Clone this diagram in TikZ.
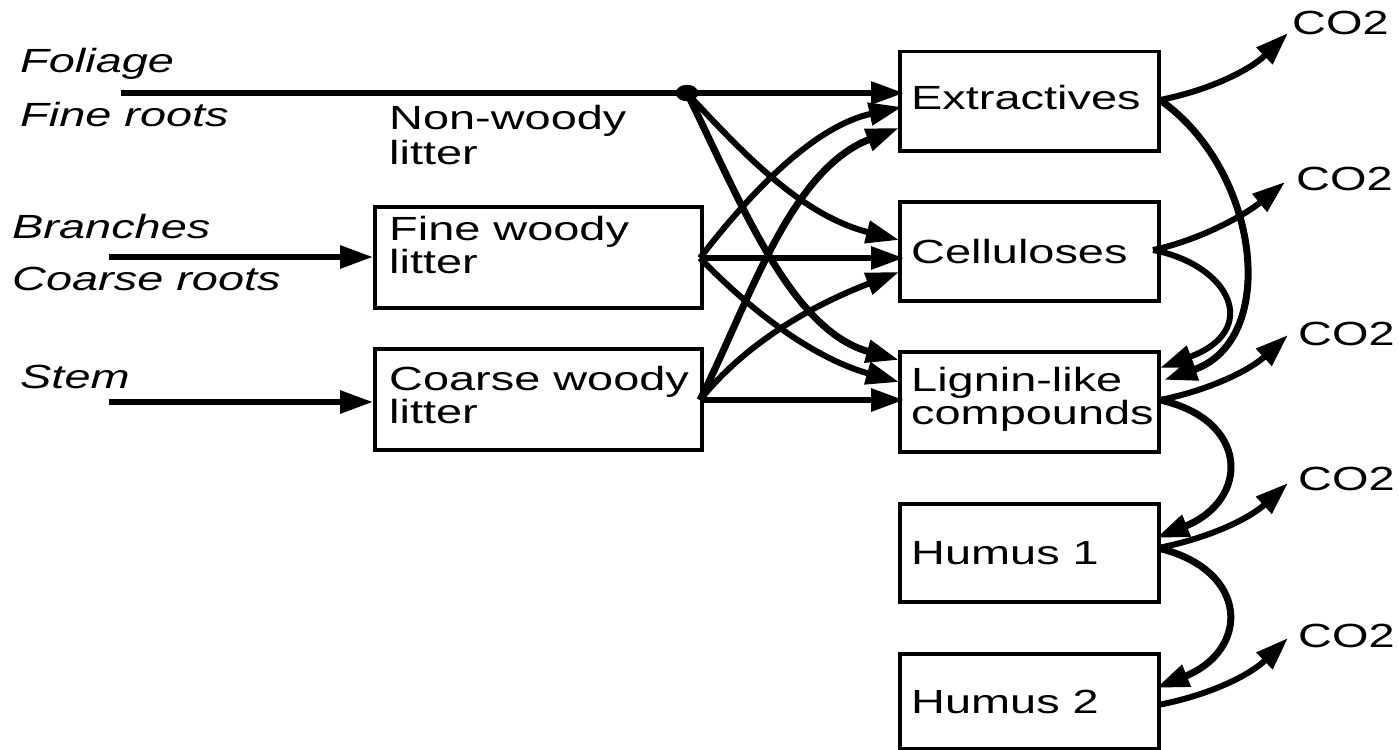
\documentclass[tikz,border=0pt]{standalone}
\usepackage{fontspec}
\setmainfont{Liberation Sans}
\usepackage{graphicx}
\usetikzlibrary{arrows.meta,shapes.geometric}
\newcommand{\sx}[1]{\scalebox{1.4}[1]{#1}}
\tikzset{
  box/.style={draw, line width=3.5pt, inner sep=0pt, anchor=north west},
  txt/.style={inner sep=0pt, anchor=base west, font=\fontsize{33.5}{36}\selectfont},
  itxt/.style={txt, font=\fontsize{33.5}{36}\selectfont\itshape},
  arr/.style={-{Triangle[length=33pt,width=22pt]}, line width=6pt},
  thick arr/.style={arr, line width=7pt},
  plain line/.style={line width=6pt}
}
\begin{document}
\begin{tikzpicture}[x=1pt,y=-1pt]
\useasboundingbox (0,0) rectangle (1399,749);
% boxes
\node[box, minimum width=259pt, minimum height=99pt] (ext) at (898,50) {};
\node[box, minimum width=259pt, minimum height=99pt] (cel) at (898,200) {};
\node[box, minimum width=259pt, minimum height=100pt] (lig) at (898,350) {};
\node[box, minimum width=259pt, minimum height=98pt] (hum1) at (898,502) {};
\node[box, minimum width=259pt, minimum height=95pt] (hum2) at (898,652) {};
\node[box, minimum width=327pt, minimum height=101pt] (fw) at (373,205) {};
\node[box, minimum width=327pt, minimum height=101pt] (cw) at (373,347) {};
% box texts
\node[txt] (extT) at (911,110) {\sx{Extractives}};
\node[txt] (celT) at (911,263) {\sx{Celluloses}};
\node[txt] (ligT1) at (911,391) {\sx{Lignin-like}};
\node[txt] (ligT2) at (911,424) {\sx{compounds}};
\node[txt] (hum1T) at (911,564) {\sx{Humus 1}};
\node[txt] (hum2T) at (911,713) {\sx{Humus 2}};
\node[txt] (fwT1) at (389,240) {\sx{Fine woody}};
\node[txt] (fwT2) at (389,273) {\sx{litter}};
\node[txt] (cwT1) at (389,390) {\sx{Coarse woody}};
\node[txt] (cwT2) at (389,423) {\sx{litter}};
\node[txt] (nwT1) at (389,130) {\sx{Non-woody}};
\node[txt] (nwT2) at (389,164) {\sx{litter}};
% input labels
\node[itxt] (fol) at (20,73) {\sx{Foliage}};
\node[itxt] (fr) at (20,127) {\sx{Fine roots}};
\node[itxt] (br) at (12,238) {\sx{Branches}};
\node[itxt] (cr) at (12,290) {\sx{Coarse roots}};
\node[itxt] (st) at (20,388) {\sx{Stem}};
% CO2 labels
\node[txt] (co1) at (1292,35) {\sx{CO2}};
\node[txt] (co2) at (1296,190) {\sx{CO2}};
\node[txt] (co3) at (1298,345) {\sx{CO2}};
\node[txt] (co4) at (1298,490) {\sx{CO2}};
\node[txt] (co5) at (1298,647) {\sx{CO2}};
% ports
\coordinate (nwS) at (121,93);
\coordinate (brS) at (109,257);
\coordinate (stS) at (109,402);
\coordinate (fwIn) at (373,257);
\coordinate (cwIn) at (373,402);
\coordinate (fwOut) at (700,258);
\coordinate (cwOut) at (700,400);
\coordinate (e1) at (904,93);
\coordinate (e2) at (902,107);
\coordinate (e3) at (899,128);
\coordinate (c1) at (899,240);
\coordinate (c2) at (904,258);
\coordinate (c3) at (899,272);
\coordinate (l1) at (899,360);
\coordinate (l2) at (899,382);
\coordinate (l3) at (904,400);
\coordinate (eo) at (1160,100);
\coordinate (cOut) at (1153,250);
\coordinate (lo) at (1160,400);
\coordinate (li1) at (1160,368);
\coordinate (li2) at (1164,380);
\coordinate (h1i) at (1156,538);
\coordinate (h1o) at (1158,548);
\coordinate (h2i) at (1156,688);
\coordinate (h2o) at (1158,705);
\coordinate (t1) at (1288,33);
\coordinate (t2) at (1285,182);
\coordinate (t3) at (1288,335);
\coordinate (t4) at (1288,483);
\coordinate (t5) at (1288,638);
% junction dot
\node[draw, fill, ellipse, minimum width=22pt, minimum height=16pt, inner sep=0pt] (jn) at (687,93) {};
% main and input arrows
\draw[plain line] (nwS) -- (jn.center);
\draw[arr] (jn.center) -- (e1);
\draw[arr] (brS) -- (fwIn);
\draw[arr] (stS) -- (cwIn);
% middle connectors
\draw[arr] (fwOut) .. controls (760,180) and (820,125) .. (e2);
\draw[thick arr] (cwOut) .. controls (750,300) and (790,170) .. (e3);
\draw[arr] (jn.center) .. controls (740,150) and (800,215) .. (c1);
\draw[thick arr] (jn.center) .. controls (740,200) and (790,330) .. (l1);
\draw[arr] (fwOut) .. controls (760,320) and (820,360) .. (l2);
\draw[arr] (cwOut) .. controls (740,350) and (800,310) .. (c3);
\draw[arr] (fwOut) -- (c2);
\draw[arr] (cwOut) -- (l3);
% right side connectors
\draw[thick arr] (eo) .. controls (1260,170) and (1280,340) .. (li2);
\draw[arr] (cOut) .. controls (1230,265) and (1262,330) .. (li1);
\draw[thick arr] (lo) .. controls (1250,420) and (1250,500) .. (h1i);
\draw[thick arr] (h1o) .. controls (1250,570) and (1250,650) .. (h2i);
% CO2 arrows
\draw[arr] (eo) .. controls (1210,90) and (1250,70) .. (t1);
\draw[arr] (cOut) .. controls (1200,240) and (1245,215) .. (t2);
\draw[arr] (lo) .. controls (1210,390) and (1250,370) .. (t3);
\draw[arr] (h1o) .. controls (1210,538) and (1250,518) .. (t4);
\draw[arr] (h2o) .. controls (1210,695) and (1250,675) .. (t5);
\end{tikzpicture}
\end{document}
